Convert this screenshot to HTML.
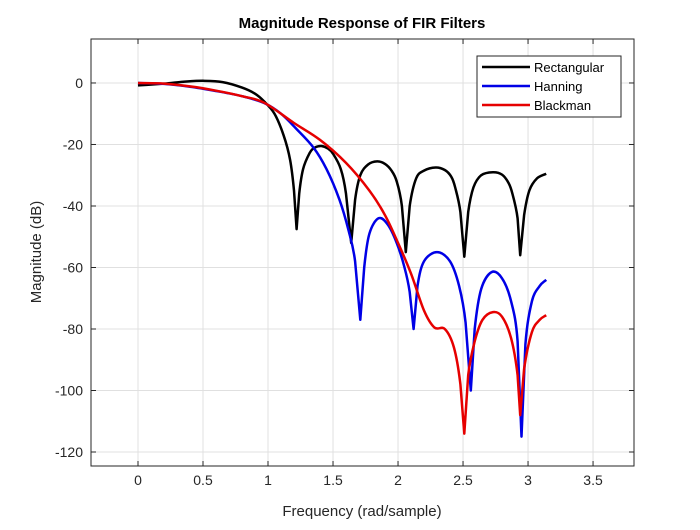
<!DOCTYPE html>
<html><head><meta charset="utf-8"><style>
body{margin:0;background:#fff;font-family:"Liberation Sans",sans-serif}
text{font-family:"Liberation Sans",sans-serif}
</style></head><body>
<svg id="chart" width="700" height="525" xmlns="http://www.w3.org/2000/svg">
<rect width="700" height="525" fill="#fff"/>
<g id="grid"></g>
<g id="series"></g>
<rect x="91" y="39" width="543" height="427" fill="none" stroke="#262626" stroke-width="1"/>
<g id="ticks"></g>
<text x="362" y="28" text-anchor="middle" font-size="15" font-weight="bold" fill="#000">Magnitude Response of FIR Filters</text>
<text x="362" y="516" text-anchor="middle" font-size="15" fill="#262626">Frequency (rad/sample)</text>
<text transform="translate(41,252) rotate(-90)" text-anchor="middle" font-size="15" fill="#262626">Magnitude (dB)</text>
<g>
<rect x="477" y="56" width="144" height="61" fill="#fff" stroke="#262626" stroke-width="1"/>
<line x1="482" y1="67" x2="530" y2="67" stroke="#000" stroke-width="2.5"/>
<text x="534" y="72" font-size="13">Rectangular</text>
<line x1="482" y1="86" x2="530" y2="86" stroke="#0000e6" stroke-width="2.5"/>
<text x="534" y="91" font-size="13">Hanning</text>
<line x1="482" y1="105" x2="530" y2="105" stroke="#e60000" stroke-width="2.5"/>
<text x="534" y="110" font-size="13">Blackman</text>
</g>
</svg>
<script>
const xTicks=[0,0.5,1,1.5,2,2.5,3,3.5];
const yTicks=[0,-20,-40,-60,-80,-100,-120];
const rectF=[0,0.2,0.35,0.5,0.65,0.8,0.9,0.97,1.05,1.12,1.17,1.2,1.22,1.24,1.27,1.32,1.36,1.41,1.46,1.5,1.56,1.6,1.64,1.67,1.71,1.77,1.84,1.9,1.95,1.99,2.03,2.06,2.09,2.14,2.2,2.29,2.36,2.41,2.44,2.48,2.51,2.54,2.58,2.64,2.73,2.8,2.85,2.88,2.92,2.94,2.97,3.01,3.07,3.14];
const rectDB=[-0.8,-0.2,0.4,0.7,0.3,-1.5,-3.5,-6,-10,-17,-25,-35,-47.5,-36,-28,-22.8,-21,-20.5,-21.3,-23,-28,-36,-52,-38,-30,-26.5,-25.5,-26.3,-28.5,-32,-40,-55,-40,-31,-28.5,-27.5,-28.3,-30.5,-34,-42,-56.5,-42,-34,-30,-29,-29.8,-32.5,-36,-44,-56,-43,-35,-31,-29.5];
const hanF=[0,0.2,0.4,0.6,0.8,0.97,1.1,1.22,1.35,1.45,1.55,1.62,1.67,1.71,1.74,1.78,1.85,1.92,1.99,2.05,2.09,2.12,2.15,2.2,2.3,2.4,2.47,2.52,2.56,2.59,2.64,2.72,2.8,2.87,2.92,2.95,2.98,3.03,3.09,3.14];
const hanDB=[0,-0.3,-1.2,-2.6,-4.3,-6.5,-10,-15,-21,-28,-38,-48,-58,-77,-60,-49,-44,-46,-52,-60,-68,-80,-66,-58,-55,-58,-66,-78,-100,-80,-67,-61.5,-63.5,-71,-84,-115,-85,-71,-66,-64];
const blkF=[0,0.2,0.4,0.6,0.8,0.97,1.2,1.4,1.6,1.78,1.9,2.0,2.1,2.2,2.28,2.36,2.43,2.48,2.51,2.54,2.59,2.65,2.73,2.8,2.87,2.92,2.94,2.97,3.03,3.09,3.14];
const blkDB=[0,-0.2,-1.1,-2.5,-4.3,-6.4,-13,-18.5,-26,-35,-43,-52,-62,-74,-79.5,-80,-86,-98,-114,-95,-84,-77,-74.5,-76,-83,-95,-108,-93,-81,-77,-75.5];
const X0=91,X1=634,Y0=39,Y1=466,xmin=-0.3615,xmax=3.815,ymin=-124.55,ymax=14.3;
const sx=v=>X0+(v-xmin)/(xmax-xmin)*(X1-X0);
const sy=v=>Y0+(ymax-v)/(ymax-ymin)*(Y1-Y0);
const NS="http://www.w3.org/2000/svg";
const mk=(t,a,p)=>{const e=document.createElementNS(NS,t);for(const k in a)e.setAttribute(k,a[k]);p.appendChild(e);return e;};
const grid=document.getElementById('grid'),ticks=document.getElementById('ticks'),ser=document.getElementById('series');
xTicks.forEach(v=>{const x=sx(v);
 const g=mk('line',{x1:x,y1:Y0,x2:x,y2:Y1,stroke:'#e0e0e0','stroke-width':1},grid);
 
 
 mk('line',{x1:x,y1:Y1,x2:x,y2:Y1-5,stroke:'#262626'},ticks);mk('line',{x1:x,y1:Y0,x2:x,y2:Y0+5,stroke:'#262626'},ticks);
 const t=mk('text',{x:x,y:Y1+19,'text-anchor':'middle','font-size':14,fill:'#262626'},ticks);t.textContent=String(v);
 
 });
yTicks.forEach(v=>{const y=sy(v);
 const g=mk('line',{x1:X0,y1:y,x2:X1,y2:y,stroke:'#e0e0e0','stroke-width':1},grid);
 
 
 mk('line',{x1:X0,y1:y,x2:X0+5,y2:y,stroke:'#262626'},ticks);mk('line',{x1:X1,y1:y,x2:X1-5,y2:y,stroke:'#262626'},ticks);
 const t=mk('text',{x:X0-8,y:y+5,'text-anchor':'end','font-size':14,fill:'#262626'},ticks);t.textContent=String(v);
 
 });
function line(fs,ds,c,name){
 const P=fs.map((f,i)=>[sx(f),sy(ds[i])]);const n=P.length;
 const isMin=i=>i>0&&i<n-1&&ds[i]<ds[i-1]&&ds[i]<ds[i+1];
 const tan=(i,side)=>{ if(i===0) return [P[1][0]-P[0][0],P[1][1]-P[0][1]];
  if(i===n-1) return [P[n-1][0]-P[n-2][0],P[n-1][1]-P[n-2][1]];
  if(isMin(i)) return side<0?[P[i][0]-P[i-1][0],P[i][1]-P[i-1][1]]:[P[i+1][0]-P[i][0],P[i+1][1]-P[i][1]];
  if(isMin(i-1)&&side<0) return [P[i][0]-P[i-1][0],P[i][1]-P[i-1][1]];
  if(isMin(i+1)&&side>0) return [P[i+1][0]-P[i][0],P[i+1][1]-P[i][1]];
  return [(P[i+1][0]-P[i-1][0])/2,(P[i+1][1]-P[i-1][1])/2];};
 let d='M'+P[0][0].toFixed(1)+','+P[0][1].toFixed(1);
 for(let i=0;i<n-1;i++){const t0=tan(i,1),t1=tan(i+1,-1);
  d+='C'+(P[i][0]+t0[0]/3).toFixed(1)+','+(P[i][1]+t0[1]/3).toFixed(1)+' '+(P[i+1][0]-t1[0]/3).toFixed(1)+','+(P[i+1][1]-t1[1]/3).toFixed(1)+' '+P[i+1][0].toFixed(1)+','+P[i+1][1].toFixed(1);}
 const p=mk('path',{d:d,fill:'none',stroke:c,'stroke-width':2.5,'stroke-linejoin':'round'},ser);
 
 }
line(rectF,rectDB,'#000','rectangular-line');
line(hanF,hanDB,'#0000e6','hanning-line');
line(blkF,blkDB,'#e60000','blackman-line');
</script>
</body></html>
